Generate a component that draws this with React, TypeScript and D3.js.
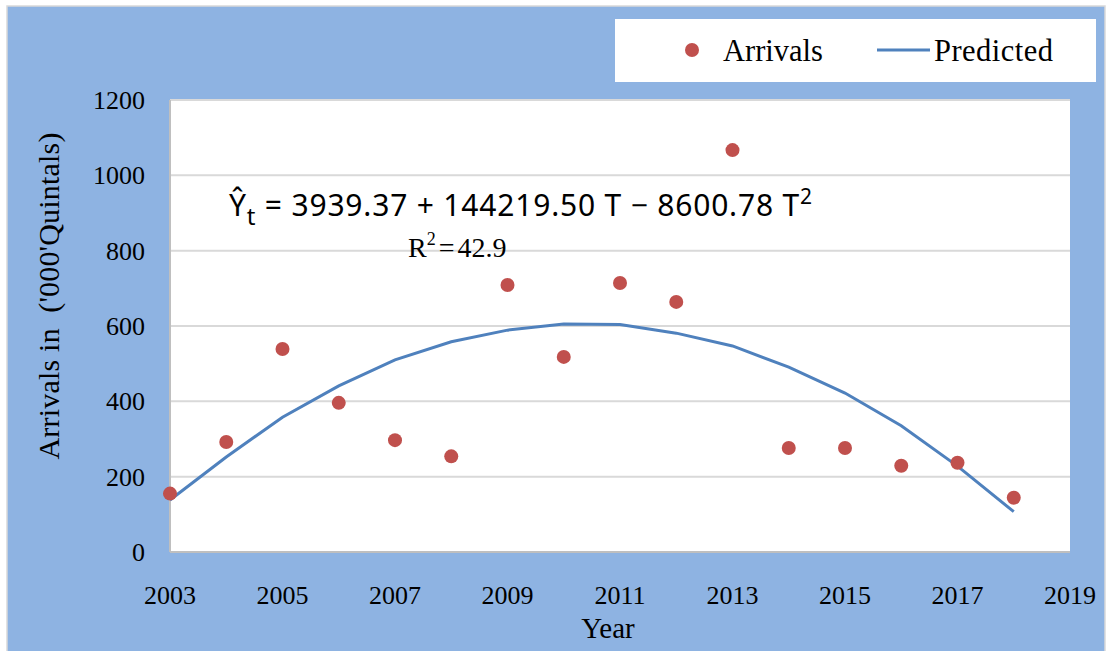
import React from "react";
import * as d3 from "d3";

const years = [2003, 2004, 2005, 2006, 2007, 2008, 2009, 2010, 2011, 2012, 2013, 2014, 2015, 2016, 2017, 2018];
const arrivals = [155, 292, 539, 396, 297, 254, 709, 518, 714, 664, 1067, 276, 276, 229, 237, 144];
const predicted = [138, 252, 358, 441, 510, 558, 589, 605, 604, 581, 547, 491, 422, 335, 228, 107];
const xTicks = [2003, 2005, 2007, 2009, 2011, 2013, 2015, 2017, 2019];
const yTicks = [0, 200, 400, 600, 800, 1000, 1200];

const W = 1106;
const H = 651;
const margin = { top: 100, right: 36, bottom: 99, left: 170 };
const serif = "'Liberation Serif', 'Times New Roman', serif";
const sans = "'Noto Sans', 'Open Sans', sans-serif";

function App() {
  const innerWidth = W - margin.left - margin.right;
  const innerHeight = H - margin.top - margin.bottom;

  const xScale = d3.scaleLinear().domain([2003, 2019]).range([0, innerWidth]);
  const yScale = d3.scaleLinear().domain([0, 1200]).range([innerHeight, 0]);

  const line = d3
    .line<number>()
    .x((_, i) => xScale(years[i]))
    .y(d => yScale(d));

  return (
    <svg width={W} height={H} style={{ position: "absolute", left: 0, top: 0 }}>
      <rect x={7} y={6} width={1098} height={650} fill="#8eb3e2" stroke="#d9d9d9" strokeWidth={1.5} />

      {/* legend */}
      <rect x={615} y={19} width={481} height={63} fill="#ffffff" />
      <circle cx={692} cy={50} r={7} fill="#c0504d" />
      <text x={723} y={61} fontFamily={serif} fontSize={30.5}>Arrivals</text>
      <line x1={877} x2={930} y1={50} y2={50} stroke="#4f81bd" strokeWidth={3} />
      <text x={934} y={61} fontFamily={serif} fontSize={30.5} textLength={119}>Predicted</text>

      <g transform={`translate(${margin.left},${margin.top})`}>
        <rect width={innerWidth} height={innerHeight} fill="#ffffff" />
        {yTicks.slice(1).map(t => (
          <line key={t} x1={0} x2={innerWidth} y1={yScale(t)} y2={yScale(t)} stroke="#d9d9d9" strokeWidth={2} />
        ))}
        <line x1={0} x2={0} y1={0} y2={innerHeight} stroke="#bfbfbf" strokeWidth={2} />
        <line x1={0} x2={innerWidth} y1={innerHeight} y2={innerHeight} stroke="#bfbfbf" strokeWidth={2} />

        {yTicks.map(t => (
          <text key={t} x={-25} y={yScale(t) + 9} textAnchor="end" fontFamily={serif} fontSize={26}>
            {t}
          </text>
        ))}
        {xTicks.map(t => (
          <text key={t} x={xScale(t)} y={innerHeight + 52} textAnchor="middle" fontFamily={serif} fontSize={26}>
            {t}
          </text>
        ))}

        <path d={line(predicted) ?? undefined} fill="none" stroke="#4f81bd" strokeWidth={3} />
        {arrivals.map((v, i) => (
          <circle key={years[i]} cx={xScale(years[i])} cy={yScale(v)} r={7} fill="#c0504d" />
        ))}
      </g>

      {/* regression equation */}
      <text x={229} y={216} fontFamily={sans} fontSize={30} textLength={583} lengthAdjust="spacing">
        Ŷ<tspan fontSize={24} dy={9}>t</tspan>
        <tspan dy={-9}> = 3939.37 + 144219.50 T − 8600.78 T</tspan>
        <tspan fontSize={21} dy={-12}>2</tspan>
      </text>
      <text x={408} y={257} fontFamily={serif} fontSize={28}>
        R<tspan fontSize={18} dy={-12}>2</tspan>
        <tspan dy={12} dx={3}>=</tspan>
        <tspan dx={3}>42.9</tspan>
      </text>

      <text
        transform={`translate(59,${296}) rotate(-90)`}
        textAnchor="middle"
        fontFamily={serif}
        fontSize={30}
        textLength={327}
        style={{ whiteSpace: "pre" }}
      >
        {"Arrivals in  ('000'Quintals)"}
      </text>
      <text x={608} y={638} textAnchor="middle" fontFamily={serif} fontSize={29}>
        Year
      </text>
    </svg>
  );
}

export default App;
